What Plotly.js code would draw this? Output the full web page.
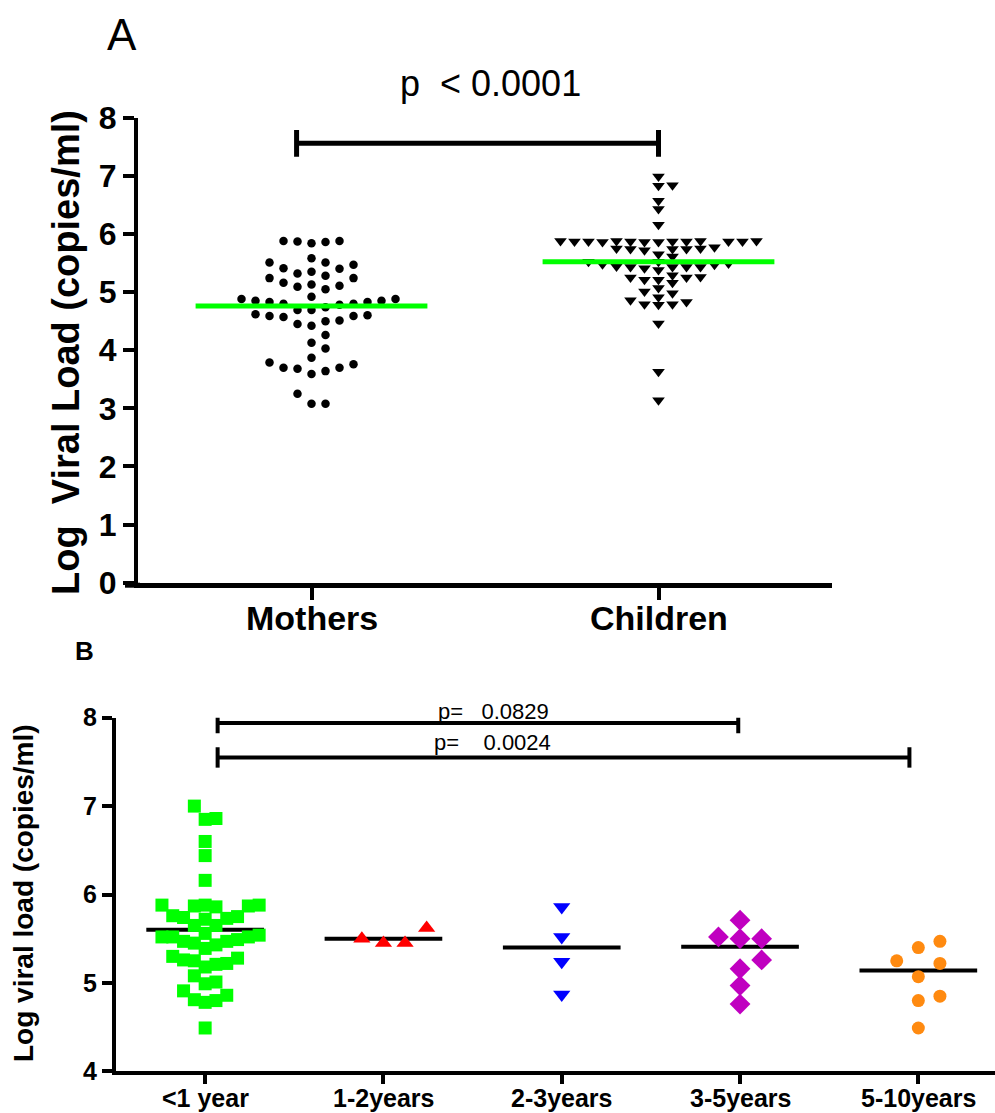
<!DOCTYPE html>
<html>
<head>
<meta charset="utf-8">
<script src="https://cdn.plot.ly/plotly-3.0.1.min.js"></script>
<style>html,body{margin:0;padding:0;background:#fff;overflow:hidden}#chart{width:995px;height:1113px}</style>
</head>
<body>
<div id="chart"></div>
<script>
// ---------- DATA ----------
const categoriesA = ["Mothers", "Children"];
const mothersValues = [5.88,5.88,5.86,5.87,5.84, 5.58, 5.51,5.51, 5.41,5.35,5.32,5.40,5.47,
  5.24,5.16,5.11,5.05,5.09,5.13,5.24,5.28,
  4.88,4.85,4.83,4.80,4.78,4.69,4.69,4.74,4.80,4.83,4.85,4.88,4.92,
  4.62,4.59,4.57,4.50,4.42,4.45,4.51,4.59,4.60,
  4.26,4.13,4.03, 3.87,3.76,3.70,3.64,3.59,3.68,3.70,3.79, 3.25,3.08,3.08];
const childrenValues = [6.99,6.84,6.83,6.57,6.43,6.16,
  5.88,5.87,5.87,5.86,5.87,5.88,5.87,5.86,5.87,5.88,5.87,5.87,5.86,5.88,
  5.75,5.75,5.72,5.65,5.74,5.74,5.74,5.77,
  5.52,5.49,5.48,5.43,5.43,5.41,5.38,5.43,5.43,5.44,5.47,5.52,5.61,
  5.26,5.25,5.21,5.07,5.16,5.21,5.25,5.29,
  5.01,4.91,4.83,4.79,4.78,4.79,4.86,4.98,
  4.46,3.63,3.14];
const meansA = [4.76, 5.52];
const yTicksA = [0,1,2,3,4,5,6,7,8];
const pTextA = "p\u00a0\u00a0< 0.0001";

const categoriesB = ["<1 year", "1-2years", "2-3years", "3-5years", "5-10years"];
const lt1Values = [7.00,6.86,6.85,6.60,6.44,6.16,
  5.88,5.87,5.88,5.86,5.87,5.88,
  5.76,5.74,5.73,5.75,5.72,
  5.65,5.65,
  5.47,5.52,5.52,5.56,5.49,5.52,5.54,5.47,5.43,5.39,5.45,
  5.25,5.21,5.28,5.26,5.18,5.30,5.22,
  5.08,4.99,5.01,
  4.86,4.91,4.81,4.78,4.80,
  4.49];
const y1to2Values = [5.50,5.45,5.45,5.62];
const y2to3Values = [5.86,5.52,5.24,4.87];
const y3to5Values = [5.71,5.52,5.50,5.50,5.26,5.16,4.97,4.76];
const y5to10Values = [5.47,5.40,5.25,5.22,5.07,4.85,4.80,4.49];
const mediansB = [5.60, 5.50, 5.40, 5.41, 5.14];
const yTicksB = [4,5,6,7,8];
const pTextsB = ["p=\u00a0\u00a0\u00a00.0829", "p=\u00a0\u00a0\u00a0\u00a00.0024"];

// ---------- LAYOUT GEOMETRY ----------
const W = 995, H = 1113;
const px = x => x / W, py = y => 1 - y / H;
const FONT = "Liberation Sans, Arial, Helvetica, sans-serif";

const A = {l:138, r:832, t:117.7, b:582.7, xr:[-0.5,1.5], yr:[0,8]};
const B = {l:116, r:995, t:717.7, b:1071.3, xr:[-0.5,4.43], yr:[4,8]};
A.ux = (A.r-A.l)/(A.xr[1]-A.xr[0]); A.uy = (A.b-A.t)/(A.yr[1]-A.yr[0]);
B.ux = (B.r-B.l)/(B.xr[1]-B.xr[0]); B.uy = (B.b-B.t)/(B.yr[1]-B.yr[0]);

// beeswarm: discrete columns, no two points of a column closer than tPx vertically
function swarm(values, stepPx, tPx, frame) {
  const idx = values.map((v,i)=>i).sort((a,b)=>values[a]-values[b]);
  const placed = [];
  const off = new Array(values.length);
  for (const i of idx) {
    const y = values[i]*frame.uy;
    for (let k=0;;k++) {
      const col = k===0 ? 0 : (k%2===1 ? (k+1)/2 : -k/2);
      if (!placed.some(p=>p.col===col && Math.abs(p.y-y)<tPx)) {
        placed.push({col, y}); off[i] = col*stepPx/frame.ux; break;
      }
    }
  }
  return off;
}

function dotTrace(values, catIndex, step, t, frame, marker, xa, ya) {
  const off = swarm(values, step, t, frame);
  return {type:"scatter", mode:"markers", x: values.map((v,i)=>catIndex+off[i]), y: values,
    xaxis: xa, yaxis: ya, marker: Object.assign({line:{width:0}}, marker), hoverinfo:"y", showlegend:false, cliponaxis:false};
}
function lineTrace(cat, val, half, color, width, xa, ya) {
  return {type:"scatter", mode:"lines", x:[cat-half, cat+half], y:[val,val], xaxis:xa, yaxis:ya,
    line:{color, width}, hoverinfo:"skip", showlegend:false};
}

const traces = [];
// panel A: points, then green mean lines on top
traces.push(dotTrace(mothersValues, 0, 14, 12, A, {symbol:"circle", size:8.5, color:"#000"}, "x", "y"));
traces.push(dotTrace(childrenValues, 1, 14, 7.5, A, {symbol:"triangle-down", size:11, color:"#000"}, "x", "y"));
meansA.forEach((m,i)=>traces.push(lineTrace(i, m, 0.334, "#00FF00", 5, "x", "y")));

// panel B: median lines, then coloured points on top
mediansB.forEach((m,i)=>traces.push(lineTrace(i, m, 0.33, "#000", 4, "x2", "y2")));
const groupsB = [lt1Values, y1to2Values, y2to3Values, y3to5Values, y5to10Values];
const markersB = [
  {symbol:"square", size:13, color:"#00FF00"},
  {symbol:"triangle-up", size:15, color:"#FF0000"},
  {symbol:"triangle-down", size:15, color:"#0000FF"},
  {symbol:"diamond", size:16, color:"#C000C0"},
  {symbol:"circle", size:13, color:"#FF8A10"}
];
groupsB.forEach((vals,i)=>{
  const step = i===0 ? 10.8 : 21.6;
  const t = i===0 ? 14 : 16;
  traces.push(dotTrace(vals, i, step, t, B, markersB[i], "x2", "y2"));
});

// significance brackets
function bracket(x0, x1, y, capHalf, width, xref, yref) {
  const ln = {color:"#000", width};
  return [
    {type:"line", xref, yref, x0, x1, y0:y, y1:y, line:ln},
    {type:"line", xref, yref, x0:x0, x1:x0, y0:y-capHalf, y1:y+capHalf, line:ln},
    {type:"line", xref, yref, x0:x1, x1:x1, y0:y-capHalf, y1:y+capHalf, line:ln}
  ];
}
const shapes = [].concat(
  bracket(-0.043, 1.0, 7.56, 0.23, 5, "x", "y"),
  bracket(0.07, 2.99, 7.94, 0.115, 4, "x2", "y2"),
  bracket(0.07, 3.95, 7.55, 0.115, 4, "x2", "y2"),
  [{type:"line", xref:"paper", yref:"paper", x0:px(125), x1:px(140), y0:py(A.b+2.5), y1:py(A.b+2.5), line:{color:"#000", width:5}}]
);

const ann = (text, x, y, size, bold, extra) => Object.assign({
  text, xref:"paper", yref:"paper", x:px(x), y:py(y), xanchor:"center", yanchor:"middle",
  showarrow:false, font:{family:FONT, size, color:"#000", weight: bold?700:400}
}, extra||{});

const annotations = [
  ann("A", 122, 35, 44, false),
  ann(pTextA, 490, 84, 36, false),
  ann("Log\u00a0\u00a0Viral Load (copies/ml)", 66, 353, 38, true, {textangle:-90}),
  ann("B", 84, 651, 26, true),
  ann(pTextsB[0], 493, 711, 22, false),
  ann(pTextsB[1], 492, 742, 22, false),
  ann("Log viral load (copies/ml)", 23, 893, 28, true, {textangle:-90})
];
categoriesA.forEach((c,i)=>annotations.push(Object.assign(ann(c, 0, 618, 34, true), {xref:"x", x:i})));
categoriesB.forEach((c,i)=>annotations.push(Object.assign(ann(c, 0, 1098, 25, true), {xref:"x2", x:i})));

const axisCommon = {showgrid:false, zeroline:false, showline:true, linecolor:"#000", ticks:"outside", tickcolor:"#000", fixedrange:true};

const layout = {
  width: W, height: H, margin:{l:0,r:0,t:0,b:0}, paper_bgcolor:"#fff", plot_bgcolor:"#fff",
  showlegend:false,
  xaxis: Object.assign({}, axisCommon, {domain:[px(A.l), px(A.r)], range:A.xr, linewidth:5, ticklen:12, tickwidth:4,
    tickvals:categoriesA.map((c,i)=>i), showticklabels:false, anchor:"y"}),
  yaxis: Object.assign({}, axisCommon, {domain:[py(A.b), py(A.t)], range:A.yr, linewidth:4, ticklen:11, tickwidth:4,
    tickvals:yTicksA, tickfont:{family:FONT, size:32, weight:700, color:"#000"}, anchor:"x"}),
  xaxis2: Object.assign({}, axisCommon, {domain:[px(B.l), px(B.r)], range:B.xr, linewidth:4, ticklen:9, tickwidth:4,
    tickvals:categoriesB.map((c,i)=>i), showticklabels:false, anchor:"y2"}),
  yaxis2: Object.assign({}, axisCommon, {domain:[py(B.b), py(B.t)], range:B.yr, linewidth:4, ticklen:10, tickwidth:4,
    tickvals:yTicksB, tickfont:{family:FONT, size:25, weight:700, color:"#000"}, anchor:"x2"}),
  shapes, annotations
};

Plotly.newPlot("chart", traces, layout, {staticPlot:true, displayModeBar:false});
</script>
</body>
</html>
